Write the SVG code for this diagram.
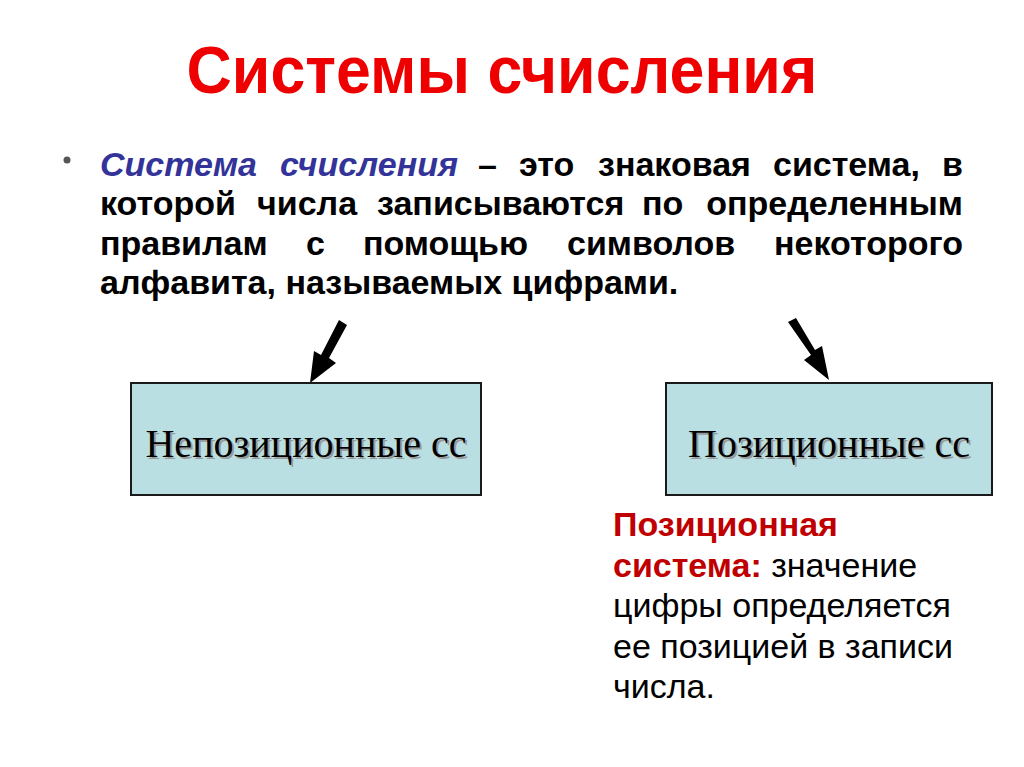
<svg xmlns="http://www.w3.org/2000/svg" width="1024" height="767" viewBox="0 0 1024 767">
<style>
.title{font-family:"Liberation Sans",Arial,sans-serif;font-weight:bold;font-size:64px;fill:#ee0000}
.body{font-family:"Liberation Sans",Arial,sans-serif;font-weight:bold;font-size:34px;fill:#000}
.term{font-style:italic;fill:#333399}
.box{fill:#b9dfe3;stroke:#1a1a1a;stroke-width:2}
.boxtext{font-family:"Liberation Serif","Times New Roman",serif;font-size:40px;text-anchor:middle;fill:#000}
.shadow{fill:#9a9a9a}
.note{font-family:"Liberation Sans",Arial,sans-serif;font-size:34px;fill:#000}
.noteh{font-weight:bold;fill:#c00000}
.arrow{fill:#000}
</style>
<rect width="1024" height="767" fill="#ffffff"/>
<text class="title" x="502" y="89" text-anchor="middle" transform="translate(502 0) scale(0.98 1.04) translate(-502 0)">Системы счисления</text>
<g id="definition">
<circle cx="67" cy="160" r="3.5" fill="#555"/>
<text class="body term" x="100" y="176">Система</text>
<text class="body term" x="280" y="176">счисления</text>
<text class="body" x="478" y="176">–</text>
<text class="body" x="519" y="176">это</text>
<text class="body" x="598" y="176">знаковая</text>
<text class="body" x="773" y="176">система,</text>
<text class="body" x="963" y="176" text-anchor="end">в</text>
<text class="body" x="100" y="215">которой</text>
<text class="body" x="257" y="215">числа</text>
<text class="body" x="377" y="215">записываются</text>
<text class="body" x="642" y="215">по</text>
<text class="body" x="963" y="215" text-anchor="end">определенным</text>
<text class="body" x="100" y="255">правилам</text>
<text class="body" x="306" y="255">с</text>
<text class="body" x="363" y="255">помощью</text>
<text class="body" x="567" y="255">символов</text>
<text class="body" x="963" y="255" text-anchor="end">некоторого</text>
<text class="body" x="100" y="294">алфавита, называемых цифрами.</text>
</g>
<g id="connectors">
<polygon class="arrow" points="339,320 347,325 329,358 336,363 310,383 314,351 321,355"/>
<polygon class="arrow" points="788,322 796,318 815,350 822,346 829,380 804,360 811,355"/>
</g>
<g id="node-nonpositional">
<rect class="box" x="131" y="383" width="350" height="112"/>
<text class="boxtext shadow" x="308" y="459">Непозиционные сс</text>
<text class="boxtext" x="306" y="457">Непозиционные сс</text>
</g>
<g id="node-positional">
<rect class="box" x="666" y="383" width="326" height="112"/>
<text class="boxtext shadow" x="831" y="459">Позиционные сс</text>
<text class="boxtext" x="829" y="457">Позиционные сс</text>
</g>
<g id="note">
<text class="note noteh" x="613" y="536">Позиционная</text>
<text class="note" x="613" y="577"><tspan class="noteh">система:</tspan> значение</text>
<text class="note" x="613" y="617">цифры определяется</text>
<text class="note" x="613" y="658">ее позицией в записи</text>
<text class="note" x="613" y="698">числа.</text>
</g>
</svg>
